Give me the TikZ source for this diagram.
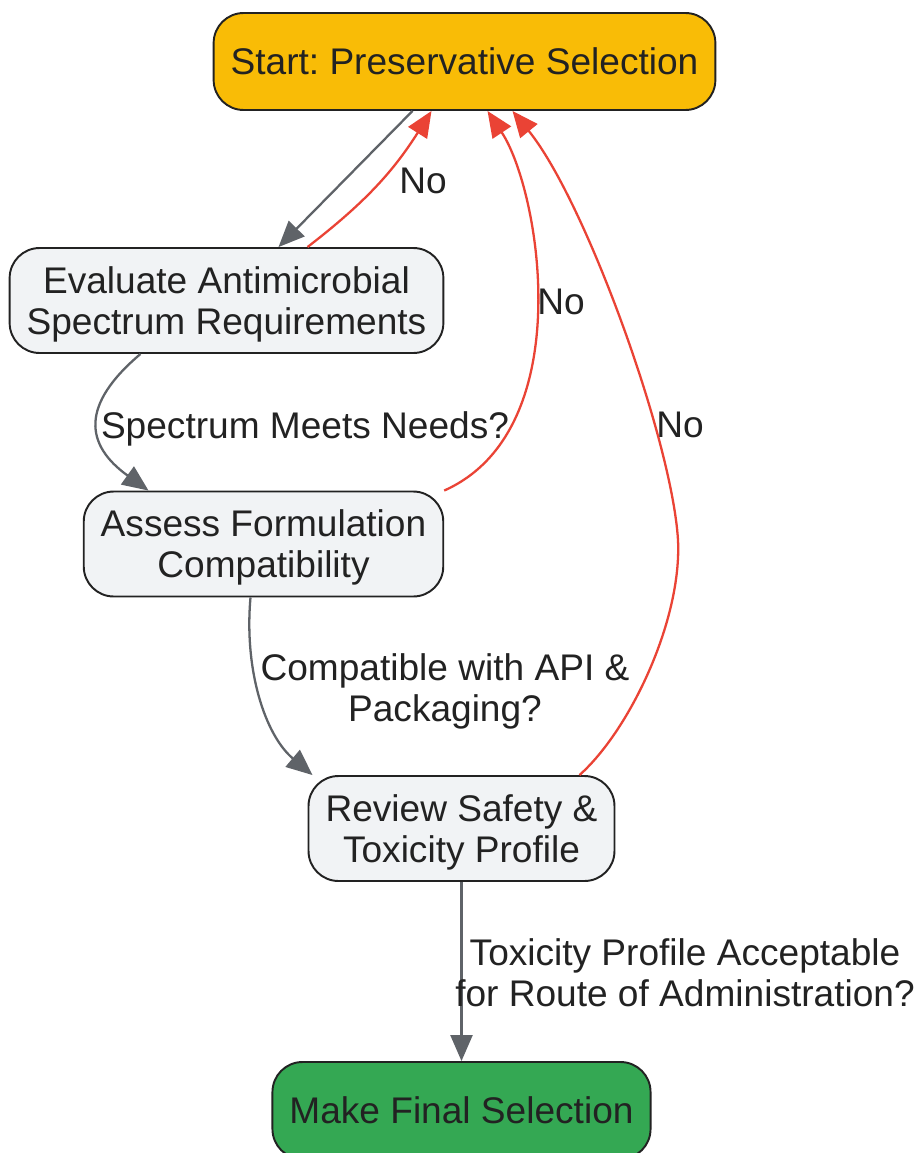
\documentclass[tikz,border=0pt]{standalone}
\usepackage{fontspec}
\setmainfont{Liberation Sans}
\frenchspacing
\usetikzlibrary{arrows.meta,calc}
\definecolor{StartOrange}{HTML}{F9BC06}
\definecolor{FinalGreen}{HTML}{34A853}
\definecolor{BoxGray}{HTML}{F1F3F5}
\definecolor{EdgeGray}{HTML}{5F6368}
\definecolor{EdgeRed}{HTML}{EA4335}
\definecolor{InkDark}{HTML}{222222}

\begin{document}
\begin{tikzpicture}[x = 0.02cm, y = -0.02cm,
    box/.style = {draw = InkDark, line width = 1.1pt, rounded corners = 0.6cm, fill = BoxGray,
      text = InkDark, align = center, inner xsep = 0.34cm, minimum height = 1.94cm,
      font = \fontsize{21.1}{23.3}\selectfont},
    twoline/.style = {minimum height = 2.1cm, text depth = 0pt},
    grayline/.style = {draw = EdgeGray, line width = 1.3pt, -{Triangle[length = 0.52cm, width = 0.44cm]}},
    redline/.style = {draw = EdgeRed, line width = 1.3pt, -{Triangle[length = 0.52cm, width = 0.44cm]}},
    lbl/.style = {text = InkDark, align = center, inner sep = 0pt, text depth = 0pt,
      font = \fontsize{21.1}{23.3}\selectfont}]
  \useasboundingbox (0,0) rectangle (916,1153);
  \fill [white] (0,0) rectangle (916,1153);

  % steps
  \node [box, fill = StartOrange] (start) at (464.5,61.5) {Start: Preservative Selection};
  \node [box, twoline] (eval) at (226.5,300.5) {Evaluate Antimicrobial\\Spectrum Requirements};
  \node [box, twoline] (assess) at (263.5,544) {Assess Formulation\\Compatibility};
  \node [box, twoline] (review) at (461.5,828.5) {Review Safety \&\\Toxicity Profile};
  \node [box, fill = FinalGreen] (final) at (461.5,1110.5) {Make Final Selection};

  % forward path
  \draw [grayline] ($(start.south)+(-52,0)$) -- ($(eval.north)+(52,0)$);
  \draw [grayline] ($(eval.south)+(-86,0)$) .. controls (80,405) and (85,445) .. ($(assess.north)+(-115,0)$);
  \draw [grayline] ($(assess.south)+(-13,0)$) .. controls (244,670) and (265,735) .. ($(review.north)+(-149,0)$);
  \draw [grayline] (review.south) -- (final.north);

  % back to start
  \draw [redline] ($(eval.north)+(81,0)$) to [bend right = 10] ($(start.south)+(-33,0)$);
  \draw [redline] (assess.north east) .. controls (580,430) and (540,190) .. ($(start.south)+(23,0)$);
  \draw [redline] ($(review.north)+(118,0)$) .. controls (630,730) and (682,620) .. (678,540)
    .. controls (672,440) and (585,200) .. ($(start.south)+(48,0)$);

  % labels
  \node [lbl] (noA) at (423,181) {No};
  \node [lbl] (spectrum) at (305,425) {Spectrum Meets Needs?};
  \node [lbl] (noB) at (561,302) {No};
  \node [lbl] (compat) at (445,688) {Compatible with API \&\\Packaging?};
  \node [lbl] (noC) at (680,425) {No};
  \node [lbl] (tox) at (685,973) {Toxicity Profile Acceptable\\for Route of Administration?};
\end{tikzpicture}
\end{document}
